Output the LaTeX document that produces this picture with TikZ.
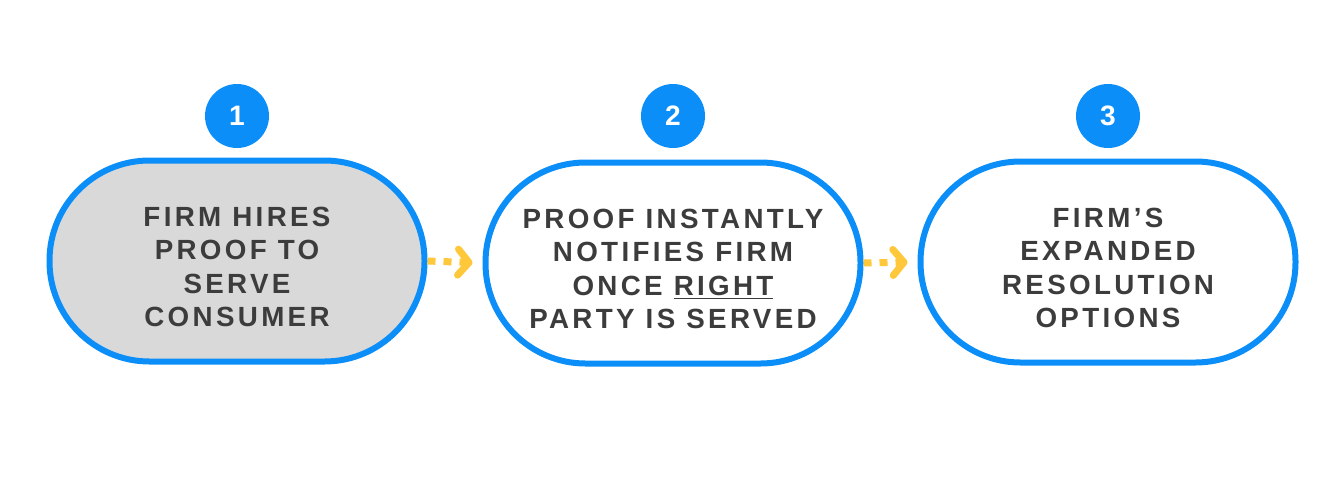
\documentclass[tikz,border=0pt]{standalone}
\usepackage{fontspec}
\setmainfont{Liberation Sans}
\newfontfamily\labelfont[LetterSpace=12]{Liberation Sans}
\usetikzlibrary{arrows.meta}
\usetikzlibrary{positioning}
\definecolor{pillblue}{HTML}{0C8EF8}
\definecolor{pillgray}{HTML}{D9D9D9}
\definecolor{textgray}{HTML}{3C3C3C}
\definecolor{flowyellow}{HTML}{FFC73A}
\tikzset{
    pill/.style={
        rectangle, draw=pillblue, line width=6*0.02cm,
        minimum width=375*0.02cm, minimum height=201*0.02cm,
        rounded corners=100*0.02cm,
    },
    pilltext/.style={
        align=center, text=textgray, yshift=-6*0.02cm,
        font=\labelfont\bfseries\fontsize{15.8}{19}\selectfont,
    },
    badge/.style={
        circle, fill=pillblue, minimum size=64*0.02cm, inner sep=0pt,
        text=white, font=\bfseries\fontsize{16}{18}\selectfont,
    },
    flow/.style={
        draw=flowyellow, line width=7*0.02cm,
        dash pattern=on 8*0.02cm off 8*0.02cm,
        -{Straight Barb[length=11*0.02cm, width=26*0.02cm, line cap=round, round]},
        shorten >=10*0.02cm,
    },
}
\begin{document}
\begin{tikzpicture}[x=0.02cm, y=-0.02cm]
    \useasboundingbox (0,0) rectangle (1344,494);

    \node (serve) at(237,261) [pill, fill=pillgray,
        label={[pilltext]center:FIRM HIRES\\PROOF TO\\SERVE\\CONSUMER}] {};
    \node (notify) at(673,263) [pill, fill=white,
        label={[pilltext]center:PROOF INSTANTLY\\NOTIFIES FIRM\\ONCE \underline{RIGHT}\\PARTY IS SERVED}] {};
    \node (options) at(1108,262) [pill, fill=white,
        label={[pilltext]center:FIRM’S\\EXPANDED\\RESOLUTION\\OPTIONS}] {};

    \node (one) at(237,116) [badge] {1};
    \node (two) at(673,116) [badge] {2};
    \node (three) at(1108,116) [badge] {3};

    \draw[flow] (serve.east) -- (notify.west);
    \draw[flow] (notify.east) -- (options.west);
\end{tikzpicture}
\end{document}
